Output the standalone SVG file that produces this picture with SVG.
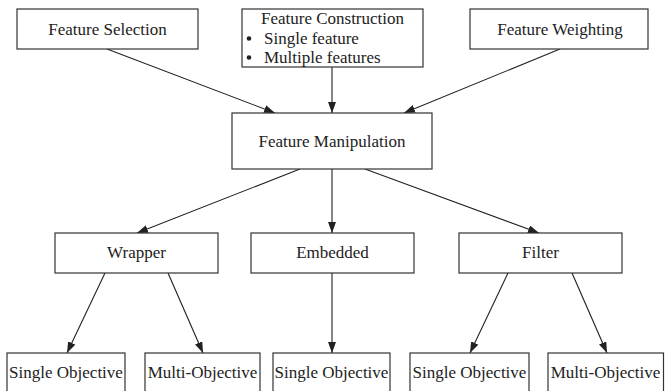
<svg xmlns="http://www.w3.org/2000/svg" width="665" height="391" viewBox="0 0 665 391">
<style>
  .box { fill: #ffffff; stroke: #333333; stroke-width: 1.2; }
  .lbl { font-family: "Liberation Serif", "Times New Roman", serif; font-size: 17px; fill: #222222; text-anchor: middle; }
  .lft { font-family: "Liberation Serif", "Times New Roman", serif; font-size: 17px; fill: #222222; }
  .edge { stroke: #222222; stroke-width: 1.1; fill: none; marker-end: url(#arrow); }
</style>
<defs>
  <marker id="arrow" markerUnits="userSpaceOnUse" markerWidth="11" markerHeight="8" refX="11" refY="4" orient="auto">
    <path d="M0,0 L11,4 L0,8 z" fill="#222222"/>
  </marker>
</defs>
<rect width="665" height="391" fill="#ffffff"/>

<g id="edges">
  <line class="edge" x1="107" y1="49" x2="275" y2="113"/>
  <line class="edge" x1="332" y1="67" x2="332" y2="113"/>
  <line class="edge" x1="560" y1="49" x2="404" y2="113"/>
  <line class="edge" x1="300" y1="169" x2="137" y2="233"/>
  <line class="edge" x1="332" y1="169" x2="332" y2="233"/>
  <line class="edge" x1="365" y1="169" x2="539" y2="233"/>
  <line class="edge" x1="105" y1="273" x2="67" y2="353"/>
  <line class="edge" x1="168" y1="273" x2="203" y2="353"/>
  <line class="edge" x1="332" y1="273" x2="332" y2="353"/>
  <line class="edge" x1="508" y1="273" x2="470" y2="353"/>
  <line class="edge" x1="572" y1="273" x2="607" y2="353"/>
</g>

<g id="feature-selection">
  <rect class="box" x="17" y="9" width="181" height="40"/>
  <text class="lbl" x="107.5" y="35">Feature Selection</text>
</g>

<g id="feature-construction">
  <rect class="box" x="242" y="9" width="181" height="58"/>
  <text class="lbl" x="332.5" y="24">Feature Construction</text>
  <circle cx="249" cy="38.5" r="2.3" fill="#222222"/>
  <text class="lft" x="264" y="44">Single feature</text>
  <circle cx="249" cy="57.5" r="2.3" fill="#222222"/>
  <text class="lft" x="264" y="63">Multiple features</text>
</g>

<g id="feature-weighting">
  <rect class="box" x="470" y="9" width="178" height="40"/>
  <text class="lbl" x="560" y="35">Feature Weighting</text>
</g>

<g id="feature-manipulation">
  <rect class="box" x="232" y="113" width="200" height="56"/>
  <text class="lbl" x="332" y="147">Feature Manipulation</text>
</g>

<g id="wrapper">
  <rect class="box" x="55" y="233" width="163" height="40"/>
  <text class="lbl" x="136.5" y="258">Wrapper</text>
</g>

<g id="embedded">
  <rect class="box" x="251" y="233" width="163" height="40"/>
  <text class="lbl" x="332.5" y="258">Embedded</text>
</g>

<g id="filter">
  <rect class="box" x="459" y="233" width="163" height="40"/>
  <text class="lbl" x="540.5" y="258">Filter</text>
</g>

<g id="wrapper-single-objective">
  <rect class="box" x="7" y="353" width="118" height="50"/>
  <text class="lbl" x="66" y="378">Single Objective</text>
</g>

<g id="wrapper-multi-objective">
  <rect class="box" x="145" y="353" width="115" height="50"/>
  <text class="lbl" x="202.5" y="378">Multi-Objective</text>
</g>

<g id="embedded-single-objective">
  <rect class="box" x="273" y="353" width="117" height="50"/>
  <text class="lbl" x="331.5" y="378">Single Objective</text>
</g>

<g id="filter-single-objective">
  <rect class="box" x="410" y="353" width="119" height="50"/>
  <text class="lbl" x="469.5" y="378">Single Objective</text>
</g>

<g id="filter-multi-objective">
  <rect class="box" x="548" y="353" width="115.5" height="50"/>
  <text class="lbl" x="605.5" y="378">Multi-Objective</text>
</g>
</svg>
